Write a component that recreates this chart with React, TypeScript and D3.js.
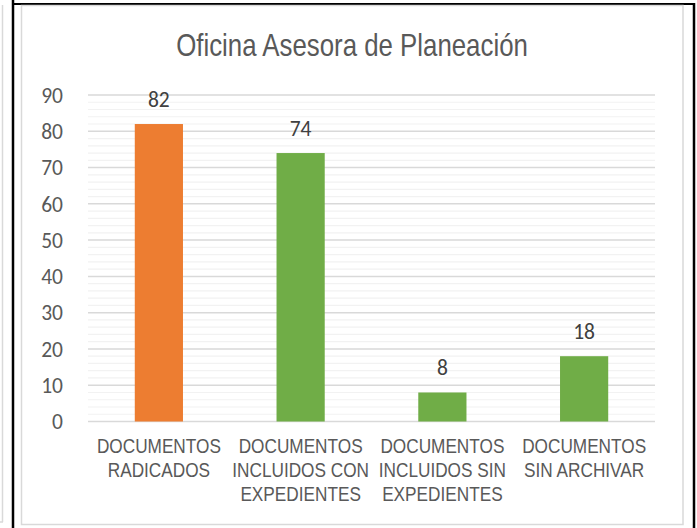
import React from "react";
import * as d3 from "d3";

const title = "Oficina Asesora de Planeación";
const categories = ["radicados", "incluidosCon", "incluidosSin", "sinArchivar"];
const categoryLines = [
  ["DOCUMENTOS", "RADICADOS"],
  ["DOCUMENTOS", "INCLUIDOS CON", "EXPEDIENTES"],
  ["DOCUMENTOS", "INCLUIDOS SIN", "EXPEDIENTES"],
  ["DOCUMENTOS", "SIN ARCHIVAR"],
];
const values = [82, 74, 8, 18];
const barColors = ["#ED7D31", "#70AD47", "#70AD47", "#70AD47"];
const yTicks = [0, 10, 20, 30, 40, 50, 60, 70, 80, 90];
const yMinorTicks = d3.range(0, 91, 2).filter((v) => v % 10 !== 0);

const W = 697;
const H = 528;
const sans = "'Liberation Sans', Arial, sans-serif";
const num = "Carlito, Lato, sans-serif";
const NARROW = 0.82;

export default function App() {
  const x = d3
    .scaleBand<string>()
    .domain(categories)
    .range([88, 655])
    .paddingInner(0.66)
    .paddingOuter(0.33);
  const y = d3.scaleLinear().domain([0, 90]).range([421.5, 95]);

  return (
    <div style={{ position: "absolute", left: 0, top: 0 }}>
      <svg width={W} height={H} style={{ display: "block" }}>
        <rect x={0} y={0} width={W} height={H} fill="#ffffff" />
        {/* outer frame */}
        <line x1={2.5} y1={5} x2={2.5} y2={522} stroke="#d9d9d9" strokeWidth={1.5} />
        <line x1={0} y1={522} x2={3} y2={522} stroke="#d9d9d9" strokeWidth={1.5} />
        <line x1={13} y1={0} x2={13} y2={H} stroke="#000" strokeWidth={2.5} />
        <line x1={12} y1={4} x2={695} y2={4} stroke="#000" strokeWidth={2} />
        <line x1={694} y1={3} x2={694} y2={H} stroke="#000" strokeWidth={2.5} />
        <rect x={21.5} y={5.5} width={661.5} height={519} fill="#fff" stroke="#d9d9d9" strokeWidth={1.5} />

        <text
          transform={`translate(352,56) scale(${NARROW},1)`}
          textAnchor="middle"
          fontFamily={sans}
          fontSize={31.5}
          fill="#595959"
        >
          {title}
        </text>

        {/* minor gridlines */}
        {yMinorTicks.map((t) => (
          <line key={"m" + t} x1={88} x2={655} y1={y(t)} y2={y(t)} stroke="#f2f2f2" strokeWidth={1.2} />
        ))}
        {/* major gridlines */}
        {yTicks.map((t) => (
          <line key={"g" + t} x1={88} x2={655} y1={y(t)} y2={y(t)} stroke="#d9d9d9" strokeWidth={1.5} />
        ))}

        {/* y tick labels */}
        {yTicks.map((t) => (
          <text
            key={"t" + t}
            x={63}
            y={y(t)}
            dy="0.36em"
            textAnchor="end"
            fontFamily={num}
            fontSize={21.5}
            fill="#595959"
          >
            {t}
          </text>
        ))}

        {/* bars */}
        {categories.map((c, i) => (
          <rect
            key={c}
            x={x(c)!}
            y={y(values[i])}
            width={x.bandwidth()}
            height={y(0) - y(values[i])}
            fill={barColors[i]}
          />
        ))}

        {/* value labels */}
        {categories.map((c, i) => (
          <text
            key={"v" + c}
            x={x(c)! + x.bandwidth() / 2}
            y={y(values[i]) - 17.5}
            textAnchor="middle"
            fontFamily={num}
            fontSize={21.5}
            fill="#404040"
          >
            {values[i]}
          </text>
        ))}

        {/* category labels */}
        {categories.map((c, i) => (
          <text
            key={"c" + c}
            transform={`translate(${x(c)! + x.bandwidth() / 2},453) scale(${NARROW},1)`}
            textAnchor="middle"
            fontFamily={sans}
            fontSize={21}
            fill="#595959"
          >
            {categoryLines[i].map((line, j) => (
              <tspan key={j} x={0} dy={j === 0 ? 0 : 24}>
                {line}
              </tspan>
            ))}
          </text>
        ))}
      </svg>
    </div>
  );
}
